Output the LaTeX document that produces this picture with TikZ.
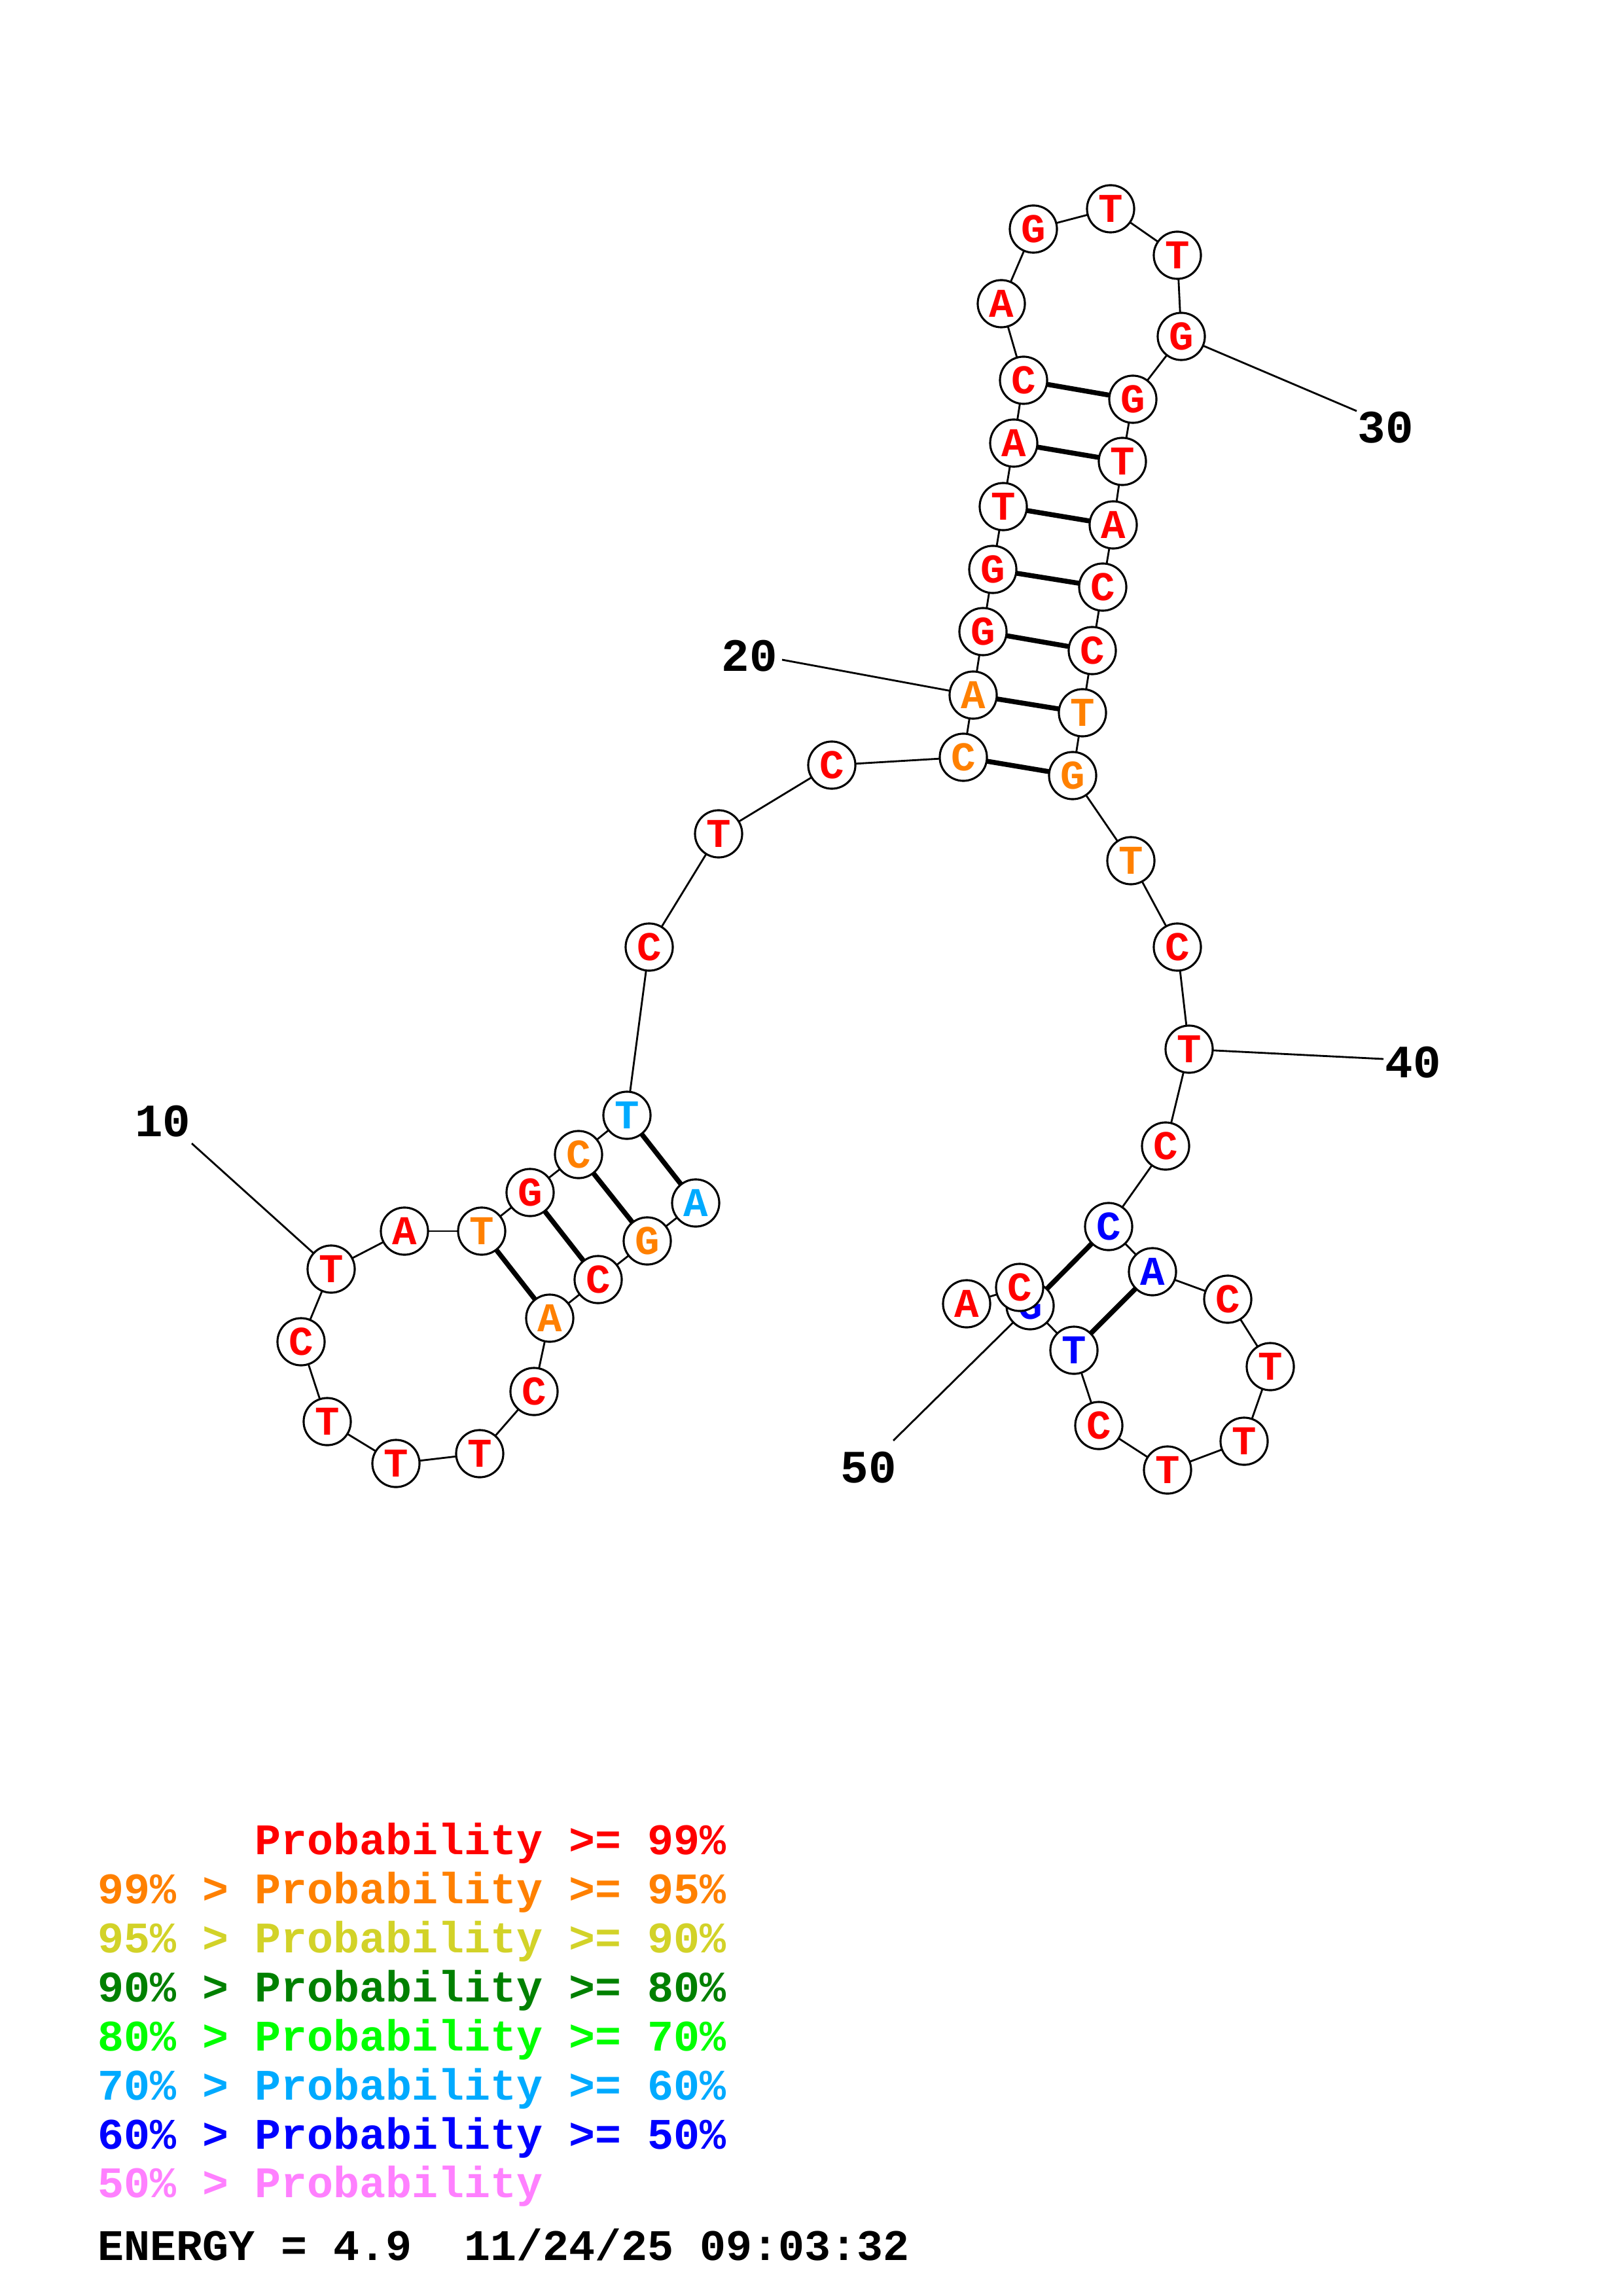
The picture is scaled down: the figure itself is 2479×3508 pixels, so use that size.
\documentclass[tikz,border=0pt]{standalone}
\usepackage{fontspec}
\newfontfamily\cour{Liberation Mono}
\definecolor{pr}{RGB}{255,0,0}
\definecolor{po}{RGB}{255,128,0}
\definecolor{py}{RGB}{210,210,40}
\definecolor{pdg}{RGB}{0,128,0}
\definecolor{pg}{RGB}{0,255,0}
\definecolor{plb}{RGB}{0,170,255}
\definecolor{pb}{RGB}{0,0,255}
\definecolor{pp}{RGB}{255,128,255}
\pgfdeclarelayer{bg}
\pgfsetlayers{bg,main}
\tikzset{
  nuc/.style={circle, draw=black, fill=white, line width=0.75pt, inner sep=0pt,
    minimum size=17.3pt, font=\cour\bfseries\fontsize{15pt}{15pt}\selectfont},
  R/.style={nuc, text=pr},
  O/.style={nuc, text=po},
  L/.style={nuc, text=plb},
  B/.style={nuc, text=pb},
  backbone/.style={line width=0.68pt},
  pairline/.style={line width=1.8pt},
  numlbl/.style={font=\cour\bfseries\fontsize{17pt}{17pt}\selectfont, inner sep=0pt},
  legend/.style={anchor=base west, inner sep=0pt, font=\cour\bfseries\fontsize{16pt}{16pt}\selectfont}
}
\begin{document}
\begin{tikzpicture}[x=0.24pt, y=-0.24pt]
\useasboundingbox (0,0) rectangle (2479,3508);
% nucleotides
\node[L] (n1) at (1063,1838) {A};
\node[O] (n2) at (989,1896) {G};
\node[R] (n3) at (914,1955) {C};
\node[O] (n4) at (840,2014) {A};
\node[R] (n5) at (816,2126) {C};
\node[R] (n6) at (733,2221) {T};
\node[R] (n7) at (605,2236) {T};
\node[R] (n8) at (500,2172) {T};
\node[R] (n9) at (460,2050) {C};
\node[R] (n10) at (506,1939) {T};
\node[R] (n11) at (618,1881) {A};
\node[O] (n12) at (736,1881) {T};
\node[R] (n13) at (810,1822) {G};
\node[O] (n14) at (884,1764) {C};
\node[L] (n15) at (958,1704) {T};
\node[R] (n16) at (992,1447) {C};
\node[R] (n17) at (1098,1274) {T};
\node[R] (n18) at (1271,1169) {C};
\node[O] (n19) at (1472,1157) {C};
\node[O] (n20) at (1487,1062) {A};
\node[R] (n21) at (1502,965) {G};
\node[R] (n22) at (1517,870) {G};
\node[R] (n23) at (1533,774) {T};
\node[R] (n24) at (1549,677) {A};
\node[R] (n25) at (1564,581) {C};
\node[R] (n26) at (1530,464) {A};
\node[R] (n27) at (1579,350) {G};
\node[R] (n28) at (1697,319) {T};
\node[R] (n29) at (1799,390) {T};
\node[R] (n30) at (1805,514) {G};
\node[R] (n31) at (1731,610) {G};
\node[R] (n32) at (1715,705) {T};
\node[R] (n33) at (1701,802) {A};
\node[R] (n34) at (1685,897) {C};
\node[R] (n35) at (1669,994) {C};
\node[O] (n36) at (1654,1089) {T};
\node[O] (n37) at (1639,1185) {G};
\node[O] (n38) at (1728,1315) {T};
\node[R] (n39) at (1799,1447) {C};
\node[R] (n40) at (1817,1603) {T};
\node[R] (n41) at (1781,1751) {C};
\node[B] (n42) at (1694,1874) {C};
\node[B] (n43) at (1761,1943) {A};
\node[R] (n44) at (1876,1985) {C};
\node[R] (n45) at (1941,2088) {T};
\node[R] (n46) at (1901,2202) {T};
\node[R] (n47) at (1784,2246) {T};
\node[R] (n48) at (1679,2178) {C};
\node[B] (n49) at (1641,2063) {T};
\node[B] (n50) at (1574,1995) {G};
\node[R] (n51) at (1558,1967) {C};
\node[R] (n52) at (1477,1992) {A};
% number labels
\node[numlbl] (t10) at (249,1713) {10};
\node[numlbl] (t20) at (1145,1002) {20};
\node[numlbl] (t30) at (2117,653) {30};
\node[numlbl] (t40) at (2159,1623) {40};
\node[numlbl] (t50) at (1327,2242) {50};
\coordinate (e10) at (293,1747);
\coordinate (e20) at (1195,1008);
\coordinate (e30) at (2073,628);
\coordinate (e40) at (2114,1618);
\coordinate (e50) at (1365,2201);
\begin{pgfonlayer}{bg}
\foreach \i [evaluate=\i as \j using int(\i+1)] in {1,...,51}
  \draw[backbone] (n\i.center) -- (n\j.center);
\foreach \a/\b in {1/15,2/14,3/13,4/12,19/37,20/36,21/35,22/34,23/33,24/32,25/31,42/50,43/49}
  \draw[pairline] (n\a.center) -- (n\b.center);
\draw[backbone] (n10.center) -- (e10);
\draw[backbone] (n20.center) -- (e20);
\draw[backbone] (n30.center) -- (e30);
\draw[backbone] (n40.center) -- (e40);
\draw[backbone] (n50.center) -- (e50);
\end{pgfonlayer}
% legend
\node[legend, text=pr] (l1) at (389,2833) {Probability >= 99\%};
\node[legend, text=po] (l2) at (149,2908) {99\% > Probability >= 95\%};
\node[legend, text=py] (l3) at (149,2983) {95\% > Probability >= 90\%};
\node[legend, text=pdg] (l4) at (149,3058) {90\% > Probability >= 80\%};
\node[legend, text=pg] (l5) at (149,3133) {80\% > Probability >= 70\%};
\node[legend, text=plb] (l6) at (149,3208) {70\% > Probability >= 60\%};
\node[legend, text=pb] (l7) at (149,3283) {60\% > Probability >= 50\%};
\node[legend, text=pp] (l8) at (149,3357) {50\% > Probability};
\node[legend, text=black] (en) at (149,3453) {ENERGY = 4.9\ \ 11/24/25 09:03:32};
\end{tikzpicture}
\end{document}
